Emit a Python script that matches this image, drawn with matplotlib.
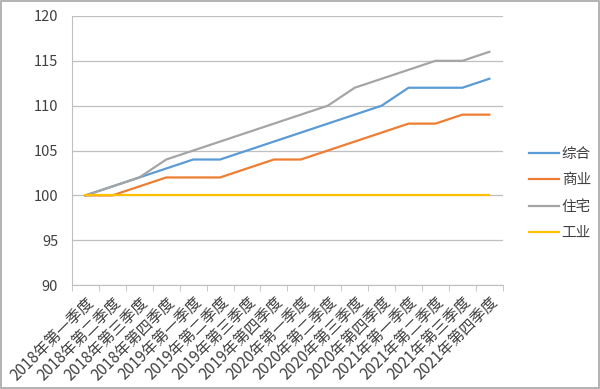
import matplotlib
matplotlib.use("Agg")
import matplotlib.pyplot as plt
from matplotlib.patches import Rectangle
import numpy as np

plt.rcParams['font.family'] = ['Noto Sans CJK SC', 'DejaVu Sans']

quarters = ['2018年第一季度', '2018年第二季度', '2018年第三季度', '2018年第四季度',
            '2019年第一季度', '2019年第二季度', '2019年第三季度', '2019年第四季度',
            '2020年第一季度', '2020年第二季度', '2020年第三季度', '2020年第四季度',
            '2021年第一季度', '2021年第二季度', '2021年第三季度', '2021年第四季度']

zonghe = [100, 101, 102, 103, 104, 104, 105, 106, 107, 108, 109, 110, 112, 112, 112, 113]
shangye = [100, 100, 101, 102, 102, 102, 103, 104, 104, 105, 106, 107, 108, 108, 109, 109]
zhuzhai = [100, 101, 102, 104, 105, 106, 107, 108, 109, 110, 112, 113, 114, 115, 115, 116]
gongye = [100] * 16

series_names = ['综合', '商业', '住宅', '工业']
series_colors = ['#5B9BD5', '#ED7D31', '#A5A5A5', '#FFC000']

fig = plt.figure(figsize=(6, 3.89), dpi=100)
ax = fig.add_axes([0.12, 0.267, 0.718, 0.692])

x = np.arange(len(quarters))
for vals, name, col in zip([zonghe, shangye, zhuzhai, gongye], series_names, series_colors):
    ax.plot(x, vals, color=col, lw=1.6, label=name, solid_joinstyle='round')

ax.set_ylim(90, 120)
ax.set_yticks(range(90, 121, 5))
ax.set_xlim(-0.5, len(quarters) - 0.5)
ax.yaxis.grid(True, color='#BFBFBF', lw=0.9)
ax.set_axisbelow(True)

# category labels centered, tick marks between categories
ax.set_xticks(x)
ax.set_xticklabels(quarters, rotation=45, ha='right', rotation_mode='anchor', fontsize=11, color='#404040')
ax.tick_params(axis='x', length=0, pad=6)
ax.set_xticks(np.arange(-0.5, len(quarters)), minor=True)
ax.tick_params(axis='x', which='minor', length=4, color='#BFBFBF')
ax.tick_params(axis='y', length=0, labelsize=10.5, labelcolor='#404040', pad=10)

for s in ['top', 'right']:
    ax.spines[s].set_visible(False)
for s in ['left', 'bottom']:
    ax.spines[s].set_color('#BFBFBF')

leg = ax.legend(loc='center left', bbox_to_anchor=(1.03, 0.34), frameon=False,
                fontsize=10.5, handlelength=2.1, handletextpad=0.15, labelspacing=0.85)
for t in leg.get_texts():
    t.set_color('#404040')

fig.patches.append(Rectangle((0.001, 0.002), 0.997, 0.995, transform=fig.transFigure,
                             fill=False, edgecolor='#A6A6A6', lw=1.2))

fig.savefig('out.png', dpi=100)
